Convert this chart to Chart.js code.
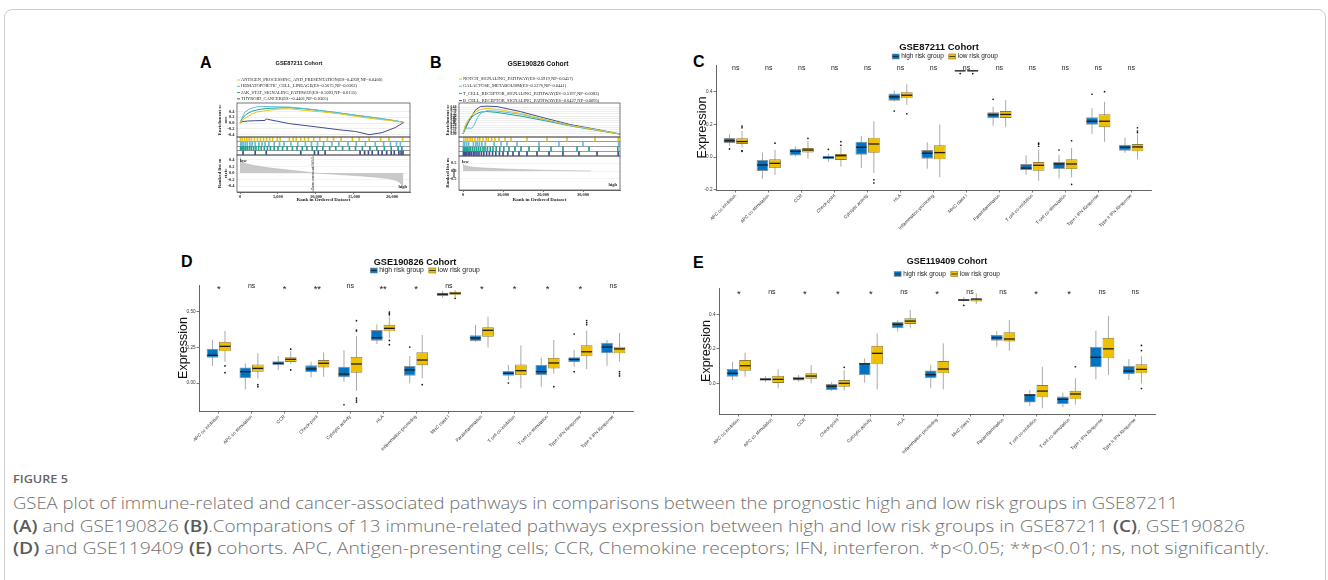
<!DOCTYPE html>
<html><head><meta charset="utf-8">
<script src="https://cdn.jsdelivr.net/npm/chart.js@4.4.1/dist/chart.umd.min.js"></script>
<style>
html,body{margin:0;padding:0;background:#fff;}
body{width:1328px;height:580px;overflow:hidden;position:relative;font-family:Arial,"Liberation Sans",sans-serif;}
#frame{position:absolute;left:4px;top:9px;width:1322px;height:640px;border:1px solid #cccccc;border-radius:8px;box-sizing:border-box;}
canvas{position:absolute;}
.pl{position:absolute;font:bold 16px Arial,"Liberation Sans",sans-serif;line-height:16px;color:#000;}
.fig{position:absolute;left:13px;top:472px;font-family:"Open Sans",sans-serif;font-weight:600;font-size:11px;line-height:14px;color:#666;white-space:nowrap;transform-origin:0 50%;}
.cap{position:absolute;left:13px;font-family:"Open Sans",sans-serif;font-weight:300;font-size:16.5px;line-height:22px;color:#707070;white-space:nowrap;transform-origin:0 50%;}
.cap b{font-weight:600;color:#5a5a5a;}
</style></head><body>
<div id="frame"></div>
<div class="pl" style="left:200px;top:55px">A</div>
<div class="pl" style="left:430px;top:55px">B</div>
<div class="pl" style="left:693px;top:54px">C</div>
<div class="pl" style="left:181px;top:254px">D</div>
<div class="pl" style="left:693px;top:255px">E</div>
<canvas id="cA" width="222" height="163" style="left:195px;top:45px"></canvas>
<canvas id="cB" width="205" height="163" style="left:420px;top:45px"></canvas>
<canvas id="cC" width="490" height="210" style="left:680px;top:36px"></canvas>
<canvas id="cD" width="480" height="220" style="left:168px;top:250px"></canvas>
<canvas id="cE" width="490" height="220" style="left:680px;top:250px"></canvas>
<div class="fig" id="fig">FIGURE 5</div>
<div class="cap" id="cap1" data-w="1165" style="top:492px">GSEA plot of immune-related and cancer-associated pathways in comparisons between the prognostic high and low risk groups in GSE87211</div>
<div class="cap" id="cap2" data-w="1232" style="top:515px"><b>(A)</b> and GSE190826 <b>(B)</b>.Comparations of 13 immune-related pathways expression between high and low risk groups in GSE87211 <b>(C)</b>, GSE190826</div>
<div class="cap" id="cap3" data-w="1256" style="top:537px"><b>(D)</b> and GSE119409 <b>(E)</b> cohorts. APC, Antigen-presenting cells; CCR, Chemokine receptors; IFN, interferon. *p&lt;0.05; **p&lt;0.01; ns, not significantly.</div>
<script>
// ---------------- DATA ----------------
const categories = ["APC co inhibition","APC co stimulation","CCR","Check-point","Cytolytic activity","HLA","Inflammation-promoting","MHC class I","Parainflammation","T cell co-inhibition","T cell co-stimulation","Type I IFN Response","Type II IFN Response"];
const groupNames = ["high risk group","low risk group"];

// Panel C: GSE87211
const C_high_lo  = [0.07, -0.135, 0.005, -0.03, -0.068, 0.34, -0.072, 0.526, 0.193, -0.109, -0.133, 0.143, 0.026];
const C_high_q1  = [0.086, -0.086, 0.01, -0.014, 0.014, 0.346, -0.01, 0.528, 0.238, -0.08, -0.074, 0.199, 0.039];
const C_high_med = [0.10, -0.049, 0.035, -0.003, 0.06, 0.37, 0.023, 0.53, 0.26, -0.068, -0.043, 0.22, 0.06];
const C_high_q3  = [0.117, -0.018, 0.051, 0.008, 0.094, 0.39, 0.043, 0.532, 0.275, -0.043, -0.031, 0.244, 0.076];
const C_high_hi  = [0.14, 0.027, 0.065, 0.02, 0.13, 0.41, 0.09, 0.534, 0.31, 0.01, 0.014, 0.3, 0.119];
const C_high_out = [[0.05],[],[],[0.047],[],[0.283],[],[0.513],[0.355],[],[0.043],[0.386],[]];
const C_low_lo   = [0.06, -0.11, -0.01, -0.06, -0.097, 0.32, -0.125, 0.525, 0.185, -0.146, -0.125, 0.094, -0.014];
const C_low_q1   = [0.08, -0.068, 0.027, -0.018, 0.026, 0.361, -0.014, 0.527, 0.24, -0.084, -0.074, 0.183, 0.035];
const C_low_med  = [0.095, -0.039, 0.043, 0.008, 0.08, 0.38, 0.027, 0.53, 0.262, -0.051, -0.043, 0.22, 0.062];
const C_low_q3   = [0.115, -0.014, 0.055, 0.018, 0.119, 0.398, 0.072, 0.533, 0.283, -0.031, -0.014, 0.263, 0.08];
const C_low_hi   = [0.16, 0.043, 0.097, 0.06, 0.22, 0.447, 0.2, 0.536, 0.35, 0.043, 0.055, 0.34, 0.14];
const C_low_out  = [[0.18,0.19,0.04,0.035],[0.085],[0.115],[0.072,0.094],[-0.14,-0.16],[0.266],[],[0.513],[],[0.079,0.066,0.085],[-0.168,0.1],[0.402],[0.18,0.16,0.15]];
const C_sig = ["ns","ns","ns","ns","ns","ns","ns","ns","ns","ns","ns","ns","ns"];
const C_yTicks = [-0.2, 0.0, 0.2, 0.4];

// Panel D: GSE190826
const D_high_lo  = [0.12, -0.044, 0.092, 0.04, 0.01, 0.275, -0.002, 0.6, 0.29, 0.021, -0.026, 0.115, 0.122];
const D_high_q1  = [0.178, 0.033, 0.125, 0.075, 0.04, 0.298, 0.051, 0.613, 0.294, 0.051, 0.056, 0.146, 0.209];
const D_high_med = [0.195, 0.08, 0.139, 0.099, 0.063, 0.319, 0.092, 0.625, 0.317, 0.068, 0.08, 0.167, 0.253];
const D_high_q3  = [0.242, 0.11, 0.153, 0.125, 0.115, 0.373, 0.12, 0.636, 0.336, 0.085, 0.127, 0.181, 0.284];
const D_high_hi  = [0.303, 0.139, 0.19, 0.15, 0.232, 0.413, 0.19, 0.65, 0.41, 0.127, 0.178, 0.232, 0.303];
const D_high_out = [[],[],[],[],[-0.153],[],[0.253],[],[],[0.0],[],[0.345,0.08],[]];
const D_low_lo   = [0.15, 0.03, 0.134, 0.044, -0.054, 0.315, 0.033, 0.605, 0.251, -0.037, 0.066, 0.098, 0.15];
const D_low_q1   = [0.223, 0.08, 0.148, 0.11, 0.073, 0.364, 0.125, 0.622, 0.326, 0.056, 0.103, 0.188, 0.209];
const D_low_med  = [0.258, 0.103, 0.167, 0.139, 0.134, 0.385, 0.162, 0.632, 0.371, 0.087, 0.141, 0.22, 0.24];
const D_low_q3   = [0.289, 0.131, 0.181, 0.162, 0.185, 0.41, 0.216, 0.643, 0.392, 0.131, 0.178, 0.265, 0.256];
const D_low_hi   = [0.366, 0.209, 0.225, 0.215, 0.331, 0.467, 0.338, 0.655, 0.467, 0.265, 0.303, 0.368, 0.352];
const D_low_out  = [[0.12,0.073],[-0.012,-0.026],[0.238,0.092],[],[0.439,0.373,0.366,-0.106,-0.12,-0.134],[0.49,0.5,0.48,0.3,0.27],[-0.012],[0.596],[],[],[-0.026],[0.44,0.425,0.41],[0.08,0.065,0.05]];
const D_sig = ["*","ns","*","**","ns","**","*","ns","*","*","*","*","ns"];
const D_yTicks = [0.0, 0.25, 0.5];

// Panel E: GSE119409
const E_high_lo  = [0.019, 0.006, 0.01, -0.045, 0.004, 0.3, -0.029, 0.475, 0.212, -0.132, -0.139, 0.023, 0.019];
const E_high_q1  = [0.038, 0.015, 0.017, -0.039, 0.048, 0.319, 0.03, 0.477, 0.247, -0.112, -0.12, 0.093, 0.054];
const E_high_med = [0.058, 0.023, 0.027, -0.017, 0.113, 0.342, 0.05, 0.483, 0.264, -0.068, -0.093, 0.151, 0.071];
const E_high_q3  = [0.083, 0.031, 0.038, -0.004, 0.12, 0.357, 0.075, 0.489, 0.28, -0.062, -0.077, 0.212, 0.102];
const E_high_hi  = [0.125, 0.042, 0.048, 0.008, 0.145, 0.365, 0.106, 0.5, 0.303, -0.039, -0.054, 0.305, 0.14];
const E_high_out = [[],[],[],[],[],[],[],[0.452],[],[],[],[],[]];
const E_low_lo   = [0.038, -0.029, 0.0, -0.043, -0.035, 0.319, -0.035, 0.46, 0.189, -0.145, -0.124, 0.048, 0.0];
const E_low_q1   = [0.073, 0.0, 0.027, -0.02, 0.11, 0.344, 0.058, 0.475, 0.243, -0.081, -0.093, 0.145, 0.058];
const E_low_med  = [0.102, 0.023, 0.042, 0.0, 0.174, 0.361, 0.083, 0.489, 0.257, -0.045, -0.062, 0.2, 0.081];
const E_low_q3   = [0.135, 0.044, 0.058, 0.019, 0.218, 0.377, 0.129, 0.49, 0.297, -0.01, -0.043, 0.264, 0.11];
const E_low_hi   = [0.177, 0.081, 0.106, 0.077, 0.29, 0.425, 0.232, 0.522, 0.367, 0.096, 0.029, 0.39, 0.158];
const E_low_out  = [[],[],[],[0.093],[],[],[],[],[],[],[0.096],[],[0.22,0.19,-0.03]];
const E_sig = ["*","ns","*","*","*","ns","*","ns","ns","*","*","ns","ns"];
const E_yTicks = [0.0, 0.2, 0.4];

// Panel A: GSEA GSE87211
const A_names = ["ANTIGEN_PROCESSING_AND_PRESENTATION(ES=0.4939,NP=0.0460)","HEMATOPOIETIC_CELL_LINEAGE(ES=0.5675,NP=0.0362)","JAK_STAT_SIGNALING_PATHWAY(ES=0.5093,NP=0.0135)","THYROID_CANCER(ES=-0.4401,NP=0.0305)"];
const A_es1 = [[0,0],[400,0.12],[1500,0.3],[2200,0.38],[3500,0.43],[5000,0.48],[6500,0.49],[8000,0.45],[10900,0.38],[13000,0.32],[15200,0.23],[17500,0.15],[19600,0.09],[21500,0.03]];
const A_es2 = [[0,0],[300,0.2],[650,0.38],[1300,0.49],[2200,0.56],[3500,0.57],[5000,0.56],[6500,0.55],[8500,0.5],[10900,0.42],[13000,0.35],[15200,0.27],[17500,0.19],[19600,0.12],[21500,0.03]];
const A_es3 = [[0,0],[300,0.15],[800,0.3],[1500,0.4],[2500,0.47],[3500,0.5],[5000,0.52],[6500,0.53],[8500,0.49],[10900,0.42],[13000,0.35],[15200,0.27],[17500,0.19],[19600,0.11],[21500,0.03]];
const A_es4 = [[0,0],[300,0.05],[1000,0.07],[2000,0.08],[3300,0.09],[3450,0.14],[3600,0.13],[6500,-0.02],[10900,-0.16],[13000,-0.23],[15200,-0.29],[17000,-0.4],[18700,-0.33],[20400,-0.16],[21300,-0.02],[21600,0.03]];
const A_hits1 = [50,300,600,900,1200,1500,1900,2300,2700,3100,3500,3900,4300,4900,5300,6500,7000,7400,8000,8500,9000,9700,10500,11500,12300,13300,14800,15700,17000,18500,19600,21400];
const A_hits2 = [100,250,450,700,950,1300,1600,2000,2500,2900,3300,3800,4500,5200,5800,6700,7600,8600,9400,10200,11000,12100,13000,14200,15300,16500,17800,18900,19800,20600,21100];
const A_hits3 = [80,200,380,520,760,980,1250,1500,1800,2100,2450,2800,3200,3600,4000,4500,5000,5600,6200,6900,7500,8200,8800,9500,10100,10900,11800,12600,13500,14400,15200,16100,17100,18000,19000,19900,20800,21300];
const A_hits4 = [400,2000,3450,8000,9800,10300,11200,15800,16400,16900,17400,18200,18700,19300,19900,20300,20900,21200,21450];
const A_rank = [[0,0.5],[200,0.35],[800,0.28],[2000,0.22],[4000,0.15],[6000,0.1],[8000,0.05],[9615,0.0],[12000,-0.03],[14000,-0.06],[16000,-0.09],[18000,-0.13],[19500,-0.17],[20500,-0.22],[21000,-0.28],[21500,-0.42]];
const A_zeroCross = 9615;
const A_xTicks = [0,5000,10000,15000,20000];
const A_esTicks = [-0.4,-0.2,0.0,0.2,0.4];
const A_rankTicks = [-0.4,-0.2,0.0,0.2,0.4];

// Panel B: GSEA GSE190826
const B_names = ["NOTCH_SIGNALING_PATHWAY(ES=0.5919,NP=0.0457)","GALACTOSE_METABOLISM(ES=0.5276,NP=0.0441)","T_CELL_RECEPTOR_SIGNALING_PATHWAY(ES=0.5197,NP=0.0383)","B_CELL_RECEPTOR_SIGNALING_PATHWAY(ES=0.6427,NP=0.0095)"];
const B_es1 = [[0,0],[500,0.18],[1200,0.3],[2200,0.42],[3300,0.5],[4500,0.55],[6000,0.57],[8500,0.55],[14300,0.46],[20200,0.33],[26800,0.19],[33500,0.09],[39000,0.0]];
const B_es2 = [[0,0],[400,0.12],[1000,0.13],[2200,0.13],[2800,0.2],[3600,0.36],[4500,0.47],[6000,0.52],[8500,0.51],[14300,0.44],[20200,0.32],[26800,0.19],[33500,0.09],[39000,0.0]];
const B_es3 = [[0,0],[500,0.12],[1200,0.25],[2200,0.38],[3300,0.45],[4500,0.49],[6000,0.5],[8500,0.48],[14300,0.4],[20200,0.3],[26800,0.18],[33500,0.08],[39000,0.0]];
const B_es4 = [[0,0],[1000,0.2],[1830,0.35],[3080,0.53],[4330,0.61],[6000,0.62],[8500,0.61],[14300,0.5],[20200,0.36],[26800,0.21],[33500,0.1],[39300,0.0]];
const B_hits1 = [200,700,1200,1800,2300,3000,3700,4200,5000,5800,6300,7200,8000,9000,10500,12000,16000,21000,26000,33000,38800];
const B_hits2 = [150,400,900,1400,2600,3200,3600,4100,4700,5600,7800,9500,11000,13500,19000,24000,30000,38900];
const B_hits3 = [100,300,500,800,1100,1500,1900,2400,2900,3400,3900,4400,5000,5500,6100,6800,7500,8300,9200,10200,11500,13000,14500,16500,19000,22000,25000,28500,31500,38700];
const B_hits4 = [100,300,600,900,1300,1700,2100,2600,3000,3500,4000,4600,5200,5900,6600,7400,8200,9100,10000,11200,12500,14000,16000,18500,21500,25000,29000,33500,38800];
const B_rank = [[0,0.45],[300,0.35],[1000,0.3],[2500,0.24],[5000,0.19],[8000,0.15],[12000,0.11],[16000,0.08],[20000,0.05],[24000,0.03],[28000,0.015],[32000,0.0]];
const B_xTicks = [0,10000,20000,30000];
const B_esTicks = [0,0.05,0.1,0.15,0.2,0.25,0.3,0.35,0.4,0.45,0.5,0.55,0.6];
const B_rankTicks = [-0.5,0.0,0.5];

// ---------------- STYLE ----------------
const SANS = 'Arial, "Liberation Sans", sans-serif';
const SERIF = '"Liberation Serif", "DejaVu Serif", serif';
const BLUE = '#0073C2', YELLOW = '#EFC000';
const GSEA_COLORS = ['#E6C31E', '#62BCE2', '#1FA38D', '#3C4D94'];
Chart.defaults.font.family = SANS;

function grp(lo, q1, med, q3, hi, out){ return {lo, q1, med, q3, hi, out}; }
function boxDs(label, color, border, g){
  return {type:'bar', label, backgroundColor:color, borderColor:border, borderWidth:0.9, borderSkipped:false,
    data: g.q1.map((v,i)=>({x:i, y:[g.q1[i], g.q3[i]]})), stats:g,
    categoryPercentage:0.76, barPercentage:0.94};
}

const boxExtras = {
  id:'boxExtras',
  beforeDatasetsDraw(chart){
    const ctx = chart.ctx, ys = chart.scales.y;
    chart.data.datasets.forEach((ds,di)=>{
      const g = ds.stats; if(!g) return;
      chart.getDatasetMeta(di).data.forEach((el,i)=>{
        ctx.save(); ctx.strokeStyle='#a0a0a0'; ctx.lineWidth=0.9;
        ctx.beginPath(); ctx.moveTo(el.x, ys.getPixelForValue(g.hi[i])); ctx.lineTo(el.x, ys.getPixelForValue(g.lo[i])); ctx.stroke();
        ctx.restore();
      });
    });
  },
  afterDatasetsDraw(chart){
    const ctx = chart.ctx, ys = chart.scales.y;
    chart.data.datasets.forEach((ds,di)=>{
      const g = ds.stats; if(!g) return;
      chart.getDatasetMeta(di).data.forEach((el,i)=>{
        const ym = ys.getPixelForValue(g.med[i]);
        ctx.save(); ctx.strokeStyle='#1c1c1c'; ctx.lineWidth=1.3;
        ctx.beginPath(); ctx.moveTo(el.x-el.width/2+0.5, ym); ctx.lineTo(el.x+el.width/2-0.5, ym); ctx.stroke();
        ctx.fillStyle='#111';
        g.out[i].forEach(v=>{ ctx.beginPath(); ctx.arc(el.x, ys.getPixelForValue(v), 0.85, 0, Math.PI*2); ctx.fill(); });
        ctx.restore();
      });
    });
  }
};

function boxDecor(p){
  return {id:'decor', afterDraw(chart){
    const ctx = chart.ctx, a = chart.chartArea, xs = chart.scales.x;
    const cx = (a.left+a.right)/2;
    ctx.save();
    ctx.textBaseline='middle'; ctx.textAlign='center'; ctx.fillStyle='#111';
    ctx.font = `bold ${p.titleSize}px ${SANS}`;
    ctx.fillText(p.title, cx+p.titleDx, a.top+p.titleDy);
    ctx.font = `${p.legSize}px ${SANS}`;
    const items = chart.data.datasets.map(d=>({t:d.label, c:d.backgroundColor, b:d.borderColor}));
    const sw=7, sh=5, g1=2, g2=5;
    const widths = items.map(it=>sw+g1+ctx.measureText(it.t).width);
    const total = widths.reduce((s,w)=>s+w,0)+g2*(items.length-1);
    let x = cx+p.legendDx-total/2; const y = a.top+p.legendDy;
    items.forEach((it,k)=>{
      ctx.fillStyle=it.c; ctx.fillRect(x, y-sh/2, sw, sh);
      ctx.strokeStyle=it.b; ctx.lineWidth=0.6; ctx.strokeRect(x, y-sh/2, sw, sh);
      ctx.strokeStyle='#222'; ctx.lineWidth=0.8; ctx.beginPath(); ctx.moveTo(x+0.5,y); ctx.lineTo(x+sw-0.5,y); ctx.stroke();
      ctx.fillStyle='#222'; ctx.textAlign='left'; ctx.fillText(it.t, x+sw+g1, y);
      x += widths[k]+g2;
    });
    ctx.textAlign='center'; ctx.fillStyle='#222';
    p.sig.forEach((s,i)=>{
      const star = s[0]==='*';
      ctx.font = star ? `9.5px ${SANS}` : `7px ${SANS}`;
      ctx.fillText(s, xs.getPixelForValue(i), a.top+p.sigDy+(star?2.8:0));
    });
    ctx.restore();
  }};
}

function makeBox(id, p){
  const cv = document.getElementById(id);
  const W = cv.width, H = cv.height, A = p.area;
  new Chart(cv, {
    type:'bar',
    data:{datasets:[boxDs(groupNames[0], BLUE, '#8f8f8f', p.high), boxDs(groupNames[1], YELLOW, '#8c7b3a', p.low)]},
    options:{
      responsive:false, animation:false, events:[],
      layout:{padding:{left:0, top:A.top, right:W-A.right, bottom:0}},
      plugins:{legend:{display:false}, tooltip:{enabled:false}, title:{display:false}},
      scales:{
        x:{type:'linear', min:-0.6, max:12.6, offset:false,
          afterBuildTicks:s=>{s.ticks = categories.map((c,i)=>({value:i}));},
          grid:{display:true, offset:false, drawOnChartArea:false, drawTicks:true, tickLength:2.5, color:'#555', lineWidth:0.8},
          border:{display:true, color:'#555', width:0.9},
          ticks:{autoSkip:false, minRotation:45, maxRotation:45, font:{size:4.6}, color:'#333', padding:0.5, callback:(v)=>categories[v]},
          afterFit:s=>{s.height = H-A.bottom;}},
        y:{min:p.yMin, max:p.yMax, beginAtZero:false,
          afterBuildTicks:s=>{s.ticks = p.yTicks.map(v=>({value:v}));},
          grid:{display:true, drawOnChartArea:false, drawTicks:true, tickLength:2.5, color:'#555', lineWidth:0.8},
          border:{display:true, color:'#555', width:0.9},
          ticks:{font:{size:4.6}, color:'#333', padding:1, callback:v=>v.toFixed(p.dec)},
          title:{display:true, text:'Expression', font:{size:12.5}, color:'#111', padding:{top:p.yTitlePad, bottom:0}},
          afterFit:s=>{s.width = A.left;}}
      }
    },
    plugins:[boxExtras, boxDecor(p)]
  });
}

makeBox('cC', {area:{left:36, top:29, right:471, bottom:154}, yMin:-0.203, yMax:0.566, yTicks:C_yTicks, dec:1, yTitlePad:15.5,
  high:grp(C_high_lo,C_high_q1,C_high_med,C_high_q3,C_high_hi,C_high_out), low:grp(C_low_lo,C_low_q1,C_low_med,C_low_q3,C_low_hi,C_low_out),
  sig:C_sig, title:'GSE87211 Cohort', titleSize:9.5, titleDx:5.5, titleDy:-18, legSize:6.5, legendDx:11.5, legendDy:-8.5, sigDy:3});
makeBox('cD', {area:{left:31, top:35, right:465, bottom:161}, yMin:-0.197, yMax:0.69, yTicks:D_yTicks, dec:2, yTitlePad:8.5,
  high:grp(D_high_lo,D_high_q1,D_high_med,D_high_q3,D_high_hi,D_high_out), low:grp(D_low_lo,D_low_q1,D_low_med,D_low_q3,D_low_hi,D_low_out),
  sig:D_sig, title:'GSE190826 Cohort', titleSize:9.2, titleDx:-1, titleDy:-23, legSize:6.8, legendDx:9, legendDy:-14.5, sigDy:1.5});
makeBox('cE', {area:{left:39, top:38, right:475, bottom:164}, yMin:-0.178, yMax:0.553, yTicks:E_yTicks, dec:1, yTitlePad:19.5,
  high:grp(E_high_lo,E_high_q1,E_high_med,E_high_q3,E_high_hi,E_high_out), low:grp(E_low_lo,E_low_q1,E_low_med,E_low_q3,E_low_hi,E_low_out),
  sig:E_sig, title:'GSE119409 Cohort', titleSize:9, titleDx:10, titleDy:-26, legSize:6.5, legendDx:10, legendDy:-14, sigDy:4});

// ---------------- GSEA ----------------
function gseaDecor(p){
  return {id:'gdecor', afterDraw(chart){
    const ctx = chart.ctx, a = chart.chartArea, sc = chart.scales;
    ctx.save();
    ctx.strokeStyle='#555'; ctx.lineWidth=0.8;
    ['yES','yRug','yRank'].forEach(k=>{const s=sc[k]; ctx.strokeRect(a.left, s.top, a.right-a.left, s.bottom-s.top);});
    ctx.textBaseline='middle'; ctx.textAlign='center'; ctx.fillStyle='#111';
    ctx.font = `bold ${p.titleSize}px ${SANS}`;
    ctx.fillText(p.title, p.titleX, p.titleY);
    ctx.font = `${p.legSize}px ${SERIF}`; ctx.textAlign='left';
    chart.data.datasets.filter(d=>d.esLegend).forEach((d,k)=>{
      const y = p.legY + k*p.legStep;
      ctx.strokeStyle=d.borderColor; ctx.lineWidth=1; ctx.beginPath(); ctx.moveTo(p.legX-4,y); ctx.lineTo(p.legX-1,y); ctx.stroke();
      ctx.fillStyle='#222'; ctx.fillText(d.label, p.legX, y);
    });
    ctx.font = `bold ${p.legSize}px ${SERIF}`; ctx.fillStyle='#222';
    ctx.fillText('low', a.left+3, sc.yRank.top+6);
    ctx.textAlign='right'; ctx.fillText('high', a.right-3, sc.yRank.bottom-5);
    if (p.zeroCross != null){
      const x = sc.x.getPixelForValue(p.zeroCross);
      ctx.setLineDash([2,1.5]); ctx.strokeStyle='#666'; ctx.lineWidth=0.7;
      ctx.beginPath(); ctx.moveTo(x, sc.yRank.top); ctx.lineTo(x, sc.yRank.bottom); ctx.stroke(); ctx.setLineDash([]);
      ctx.translate(x, (sc.yRank.top+sc.yRank.bottom)/2); ctx.rotate(-Math.PI/2);
      ctx.font = `4.5px ${SERIF}`; ctx.textAlign='center'; ctx.fillStyle='#333';
      ctx.fillText('Zero cross at ' + p.zeroCross, 0, 0);
    }
    ctx.restore();
  }};
}

function makeGsea(id, p){
  const cv = document.getElementById(id);
  const W = cv.width, H = cv.height, A = p.area;
  const ds = [];
  p.es.forEach((curve,k)=>ds.push({type:'line', label:p.names[k], esLegend:true, data:curve, borderColor:GSEA_COLORS[k], borderWidth:1, pointRadius:0, tension:0, yAxisID:'yES', xAxisID:'x'}));
  p.hits.forEach((h,k)=>ds.push({type:'bar', label:'hits'+k, data:h.map(v=>({x:v, y:[3-k+0.08, 4-k-0.08]})), backgroundColor:GSEA_COLORS[k], barThickness:1, grouped:false, yAxisID:'yRug', xAxisID:'x'}));
  ds.push({type:'line', label:'rank', data:p.rank, fill:'origin', backgroundColor:'#c9c9c9', borderColor:'#b9b9b9', borderWidth:0.6, pointRadius:0, tension:0, yAxisID:'yRank', xAxisID:'x'});
  const tickFont = {size:4.4, family:SERIF, weight:'bold'};
  const yTitle = (lines)=>({display:true, text:lines, font:{size:5, weight:'bold', family:SERIF}, color:'#222', padding:{top:p.yTitlePad, bottom:0}});
  new Chart(cv, {
    type:'line',
    data:{datasets:ds},
    options:{
      responsive:false, animation:false, events:[],
      layout:{padding:{left:0, top:A.top, right:W-A.right, bottom:0}},
      plugins:{legend:{display:false}, tooltip:{enabled:false}, filler:{propagate:false}},
      scales:{
        x:{type:'linear', min:p.xMin, max:p.xMax, offset:false,
          afterBuildTicks:s=>{s.ticks = p.xTicks.map(v=>({value:v}));},
          grid:{display:true, offset:false, drawOnChartArea:false, tickLength:2, color:'#444', lineWidth:0.7},
          border:{display:true, color:'#444', width:0.8},
          ticks:{autoSkip:false, maxRotation:0, font:tickFont, color:'#222', padding:0.5, callback:v=>v.toLocaleString('en-US')},
          title:{display:true, text:'Rank in Ordered Dataset', font:{size:5, weight:'bold', family:SERIF}, color:'#222', padding:{top:0, bottom:p.xTitlePad}},
          afterFit:s=>{s.height = H-A.bottom;}},
        yRank:{position:'left', stack:'g', stackWeight:p.w[2], min:p.rankMin, max:p.rankMax,
          afterBuildTicks:s=>{s.ticks = p.rankTicks.map(v=>({value:v}));},
          grid:{color:'#ececec', lineWidth:0.6, tickLength:2, drawTicks:true}, border:{display:false},
          ticks:{font:tickFont, color:'#222', padding:0.5, autoSkip:false, callback:v=>v.toFixed(1)},
          title:yTitle(['Ranked list m','etric']), afterFit:s=>{s.width = A.left;}},
        yRug:{position:'left', stack:'g', stackWeight:p.w[1], min:0, max:4,
          afterBuildTicks:s=>{s.ticks = [1,2,3].map(v=>({value:v}));},
          grid:{color:'#555', lineWidth:0.6, drawTicks:false}, border:{display:false},
          ticks:{display:false}, afterFit:s=>{s.width = A.left;}},
        yES:{position:'left', stack:'g', stackWeight:p.w[0], min:p.esMin, max:p.esMax,
          afterBuildTicks:s=>{s.ticks = p.esTicks.map(v=>({value:v}));},
          grid:{color:'#e4e4e4', lineWidth:0.6, tickLength:2, drawTicks:true}, border:{display:false},
          ticks:{font:{...tickFont, size:p.esTickSize}, color:'#222', padding:0.5, autoSkip:false, callback:v=>v.toFixed(p.esDec)},
          title:yTitle(['Enrichment sc','ore']), afterFit:s=>{s.width = A.left;}}
      }
    },
    plugins:[gseaDecor(p)]
  });
}

makeGsea('cA', {area:{left:42, top:58, right:215, bottom:147}, w:[34,18,37],
  names:A_names, es:[A_es1,A_es2,A_es3,A_es4], hits:[A_hits1,A_hits2,A_hits3,A_hits4], rank:A_rank,
  xMin:-395, xMax:22370, xTicks:A_xTicks, esMin:-0.48, esMax:0.69, esTicks:A_esTicks, esDec:1, esTickSize:4.4,
  rankMin:-0.58, rankMax:0.55, rankTicks:A_rankTicks, zeroCross:A_zeroCross,
  yTitlePad:22, xTitlePad:5, title:'GSE87211 Cohort', titleSize:5.6, titleX:104, titleY:18,
  legSize:4.5, legX:46, legY:35, legStep:6.3});
makeGsea('cB', {area:{left:39, top:58, right:200, bottom:145}, w:[34,19,34],
  names:B_names, es:[B_es1,B_es2,B_es3,B_es4], hits:[B_hits1,B_hits2,B_hits3,B_hits4], rank:B_rank,
  xMin:-1000, xMax:39250, xTicks:B_xTicks, esMin:-0.067, esMax:0.69, esTicks:B_esTicks, esDec:2, esTickSize:3.4,
  rankMin:-1.19, rankMax:0.94, rankTicks:B_rankTicks, zeroCross:null,
  yTitlePad:25, xTitlePad:5, title:'GSE190826 Cohort', titleSize:6.8, titleX:118, titleY:19,
  legSize:4.5, legX:43, legY:34, legStep:7.2});

// ---------------- caption fit ----------------
(function(){
  document.querySelectorAll('.cap').forEach(e=>{
    const s = parseFloat(e.dataset.w) / e.getBoundingClientRect().width;
    e.style.transform = `scaleX(${s})`;
  });
  const f = document.getElementById('fig');
  f.style.transform = `scaleX(${55 / f.getBoundingClientRect().width})`;
})();
</script>
</body></html>
